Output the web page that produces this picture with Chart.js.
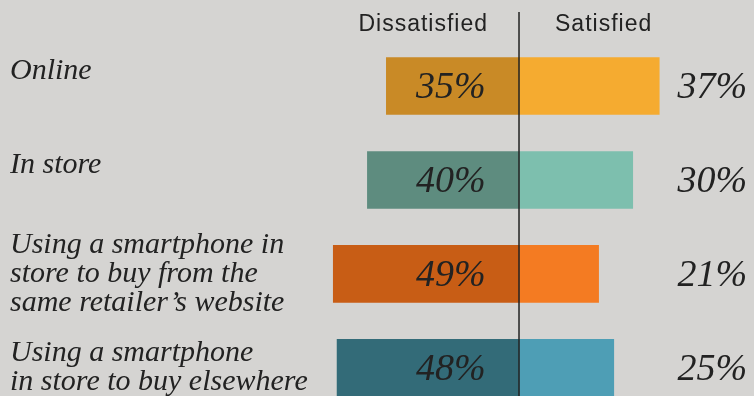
<!DOCTYPE html>
<html>
<head>
<meta charset="utf-8">
<script src="https://cdn.jsdelivr.net/npm/chart.js@4"></script>
<style>
  html, body { margin: 0; padding: 0; background: #d5d4d2; overflow: hidden; }
  #wrap { width: 754px; height: 396px; overflow: hidden; }
</style>
</head>
<body>
<div id="wrap"><canvas id="grafico" width="754" height="447"></canvas></div>
<script>
// dados
const categorias = [
  ['Online', ''],
  ['In store', ''],
  ['Using a smartphone in', 'store to buy from the', 'same retailer\u2019s website'],
  ['Using a smartphone', 'in store to buy elsewhere']
];
const insatisfeitos = [35, 40, 49, 48];
const satisfeitos = [37, 30, 21, 25];
const cabecalhos = ['Dissatisfied', 'Satisfied'];

const coresInsatisfeitos = ['#c98a26', '#5e8c7f', '#c85d15', '#336b78'];
const coresSatisfeitos = ['#f5ab30', '#7dbfae', '#f47b22', '#4e9eb5'];

// rótulos, cabeçalhos e linha central
const extras = {
  id: 'extras',
  afterDatasetsDraw(chart) {
    const ctx = chart.ctx;
    const x = chart.scales.x;
    const y = chart.scales.y;
    const x0 = x.getPixelForValue(0);

    ctx.save();
    ctx.fillStyle = '#222';
    ctx.font = 'italic 38px "Liberation Serif", serif';
    ctx.textAlign = 'center';
    ctx.textBaseline = 'middle';
    insatisfeitos.forEach((v, i) => {
      const py = y.getPixelForValue(i) + 2;
      ctx.fillText(v + '%', x.getPixelForValue(-18), py);
      ctx.fillText(satisfeitos[i] + '%', x.getPixelForValue(51), py);
    });

    ctx.font = '23px "Liberation Sans", sans-serif';
    ctx.letterSpacing = '1px';
    ctx.textAlign = 'right';
    ctx.fillText(cabecalhos[0], x0 - 31, 25);
    ctx.textAlign = 'left';
    ctx.fillText(cabecalhos[1], x0 + 36, 25);

    ctx.strokeStyle = '#222';
    ctx.lineWidth = 1.5;
    ctx.beginPath();
    ctx.moveTo(x0, 12);
    ctx.lineTo(x0, chart.height);
    ctx.stroke();
    ctx.restore();
  }
};

new Chart(document.getElementById('grafico'), {
  type: 'bar',
  data: {
    labels: categorias,
    datasets: [
      {
        label: cabecalhos[0],
        data: insatisfeitos.map(v => -v),
        backgroundColor: coresInsatisfeitos,
        barThickness: 57
      },
      {
        label: cabecalhos[1],
        data: satisfeitos,
        backgroundColor: coresSatisfeitos,
        barThickness: 57
      }
    ]
  },
  options: {
    indexAxis: 'y',
    responsive: false,
    animation: false,
    layout: { padding: { left: 10, top: 39, right: 0, bottom: 5 } },
    plugins: {
      legend: { display: false },
      tooltip: { enabled: false }
    },
    scales: {
      x: {
        stacked: true,
        min: -50,
        max: 62,
        display: false
      },
      y: {
        stacked: true,
        border: { display: false },
        grid: { display: false, drawTicks: false },
        afterFit(scale) { scale.width = 319.5; },
        ticks: {
          crossAlign: 'far',
          color: '#222',
          font: { family: '"Liberation Serif", serif', style: 'italic', size: 30, lineHeight: 0.97 }
        }
      }
    }
  },
  plugins: [extras]
});
</script>
</body>
</html>
